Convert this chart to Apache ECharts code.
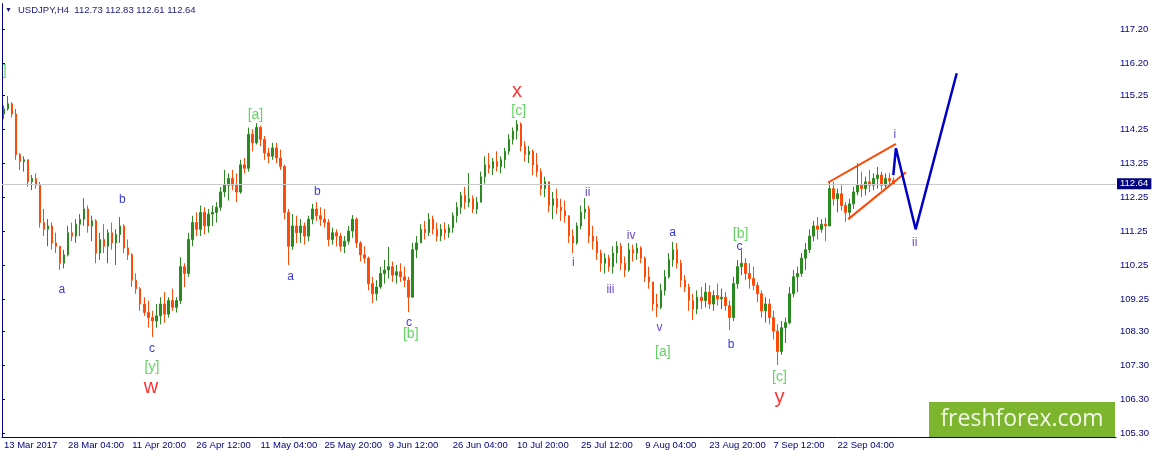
<!DOCTYPE html>
<html><head><meta charset="utf-8">
<script src="https://cdn.jsdelivr.net/npm/echarts@6/dist/echarts.min.js"></script>
<style>html,body{margin:0;padding:0;background:#fff}#c{width:1155px;height:458px}</style>
</head><body><div id="c"></div>
<script>
// ---- data (each candle = 4 consecutive H4 bars) ----
const symbolName = 'USDJPY,H4';
const barsPerCandle = 4;
const xTickLabels = ['13 Mar 2017','28 Mar 04:00','11 Apr 20:00','26 Apr 12:00','11 May 04:00','25 May 20:00','9 Jun 12:00','26 Jun 04:00','10 Jul 20:00','25 Jul 12:00','9 Aug 04:00','23 Aug 20:00','7 Sep 12:00','22 Sep 04:00'];
const yTickLabels = ['105.30','106.30','107.30','108.30','109.25','110.25','111.25','112.25','113.25','114.25','115.25','116.20','117.20'];
const firstOpen = 114.70;
const closes = [
114.85,115.00,114.70,113.50,113.30,113.35,112.70,112.80,112.60,111.50,
111.30,111.40,110.90,110.80,110.30,110.55,111.20,111.10,111.45,111.60,
111.90,111.40,111.55,110.60,111.00,110.80,111.20,110.90,111.15,111.40,
110.75,110.55,109.80,109.55,109.10,108.85,108.70,108.60,108.75,109.10,
108.80,109.20,109.00,109.20,110.20,110.00,111.00,111.50,111.30,111.80,
111.40,111.75,111.80,111.95,112.40,112.60,112.80,112.60,112.40,113.20,
113.10,114.10,113.85,114.30,113.95,113.55,113.45,113.70,113.40,113.15,
111.80,110.80,111.40,111.20,111.40,111.10,111.60,111.90,111.70,111.60,
111.50,111.00,111.20,111.10,110.80,110.95,111.25,111.60,110.90,110.55,
110.45,109.70,109.40,109.60,110.00,110.10,110.20,109.95,110.05,109.90,
109.80,109.30,110.70,110.90,111.30,111.20,111.60,111.30,111.10,111.30,
111.20,111.35,111.70,111.95,112.30,112.10,112.20,111.90,112.10,112.85,
113.20,113.10,113.30,113.15,113.35,113.60,113.95,114.20,114.40,113.75,
113.50,113.60,113.20,113.00,112.50,112.70,112.00,112.20,111.95,111.85,
111.70,111.10,110.90,111.40,111.80,111.90,111.10,110.95,110.60,110.30,
110.45,110.20,110.60,110.80,110.30,110.10,110.70,110.60,110.75,110.45,
109.90,109.75,109.10,109.00,109.50,109.90,110.40,110.70,110.30,109.80,
109.60,109.20,108.95,109.30,109.20,109.45,109.10,109.35,109.25,109.30,
109.05,108.70,109.70,110.20,110.30,110.00,109.85,109.65,109.40,108.90,
109.10,108.70,108.30,107.70,108.40,108.55,109.40,109.90,110.00,110.45,
110.70,111.10,111.40,111.30,111.45,111.40,112.50,112.20,112.35,112.00,
111.80,112.05,112.40,112.60,112.50,112.70,112.60,112.80,112.90,112.60,
112.80,112.73,112.64];
const highs = [
114.95,115.23,115.05,114.85,113.55,113.45,113.10,112.90,112.95,112.70,
111.90,111.60,111.50,111.20,110.80,110.70,111.40,111.50,111.60,111.75,
112.22,112.00,111.70,111.60,111.20,111.45,111.30,111.50,111.30,111.66,
111.45,111.00,110.60,110.00,109.60,109.30,109.20,108.90,109.10,109.30,
109.45,109.30,109.55,109.30,110.48,110.30,111.20,111.70,111.80,112.00,
111.95,111.90,112.00,112.10,112.55,113.05,112.95,113.05,112.95,113.35,
113.40,114.30,114.25,114.43,114.35,114.05,113.70,113.85,113.85,113.65,
113.20,111.90,111.75,111.70,111.60,111.50,111.70,112.05,112.10,111.95,
111.90,111.60,111.35,111.30,111.20,111.10,111.40,111.72,111.65,110.95,
110.80,110.50,109.90,109.80,110.20,110.40,110.78,110.35,110.25,110.30,
110.20,109.90,110.90,111.10,111.45,111.55,111.78,111.70,111.50,111.45,
111.50,111.45,111.80,112.10,112.40,112.55,112.96,112.30,112.25,113.00,
113.45,113.55,113.40,113.60,113.45,113.70,114.10,114.30,114.52,114.45,
113.90,113.75,113.65,113.55,113.10,112.85,112.60,112.40,112.50,112.20,
112.15,111.60,111.30,111.50,112.00,112.22,112.00,111.40,111.10,110.70,
110.60,110.55,110.80,110.95,110.90,110.50,110.90,110.85,110.90,110.80,
110.50,110.20,109.70,109.40,109.70,110.10,110.60,110.93,110.90,110.40,
109.95,109.70,109.40,109.50,109.60,109.72,109.65,109.50,109.70,109.55,
109.45,109.20,109.90,110.40,110.69,110.45,110.30,110.20,109.75,109.50,
109.30,109.25,108.90,108.50,108.60,108.70,109.60,110.10,110.20,110.60,
110.90,111.30,111.55,111.66,111.60,111.65,112.69,112.70,112.50,112.60,
112.10,112.20,112.55,113.25,113.00,112.85,113.05,112.95,113.14,113.00,
112.95,112.96,112.83];
const lows = [
114.55,114.80,114.60,113.35,113.05,113.00,112.55,112.45,112.50,111.35,
111.10,110.80,110.70,110.60,110.10,110.15,110.50,110.95,110.90,111.10,
111.40,111.20,110.95,110.30,110.40,110.60,110.30,110.70,110.25,110.90,
110.60,110.40,109.60,109.40,108.90,108.75,108.40,108.13,108.40,108.50,
108.55,108.70,108.90,108.85,109.10,109.60,109.90,110.80,111.10,111.10,
111.15,111.20,111.40,111.50,111.85,112.25,112.15,112.45,112.10,112.35,
112.95,113.00,113.60,113.80,113.75,113.35,113.25,113.35,113.25,113.05,
111.60,110.25,110.70,110.90,110.90,110.85,110.95,111.45,111.55,111.40,
111.35,110.80,110.85,110.80,110.65,110.60,110.85,111.05,110.75,110.35,
110.30,109.50,109.13,109.20,109.55,109.70,109.85,109.75,109.70,109.75,
109.60,108.86,109.30,110.45,110.90,111.00,111.10,111.15,110.95,110.95,
111.00,111.05,111.20,111.50,111.75,111.90,111.95,111.78,111.75,112.10,
112.65,112.95,112.90,113.00,112.95,113.10,113.50,113.80,113.95,113.60,
113.30,113.25,112.90,112.85,112.30,112.25,111.80,111.60,111.75,111.55,
111.50,110.90,110.60,110.85,111.30,111.60,110.90,110.70,110.40,110.05,
110.00,110.05,110.00,110.30,110.10,109.90,110.05,110.35,110.40,110.30,
109.75,109.55,108.90,108.72,108.95,109.35,109.85,110.20,110.15,109.60,
109.45,108.90,108.63,108.80,108.95,109.00,108.95,108.90,109.05,108.95,
108.90,108.33,108.60,109.55,109.95,109.80,109.55,109.50,109.15,108.70,
108.55,108.50,108.05,107.30,107.60,107.95,108.50,109.30,109.45,109.90,
110.10,110.60,110.95,111.00,111.20,110.95,111.40,112.00,111.80,111.85,
111.52,111.60,111.90,112.30,112.25,112.30,112.40,112.45,112.50,112.45,
112.50,112.55,112.61];
const lastPrice = 112.64;
// drawn lines, in [H4 bar index, price]
const channelUpper = [[824.7,112.68],[892.3,113.82]];
const channelLower = [[844.7,111.60],[902.3,112.98]];
const projection = [[889.7,112.90],[892.3,113.69],[912,111.30],[953,115.90]];
// wave labels: [H4 bar index, price, text, kind]
const waveLabels = [
[2.7,115.97,']','bracket'],
[59.7,109.51,'a','minor'],
[120,112.16,'b','minor'],
[149.7,107.77,'c','minor'],
[149.7,107.25,'[y]','bracket'],
[148.7,106.63,'w','major'],
[253,114.67,'[a]','bracket'],
[288,109.90,'a','minor'],
[314.7,112.41,'b','minor'],
[406.3,108.55,'c','minor'],
[408,108.22,'[b]','bracket'],
[514,115.36,'x','major'],
[515.7,114.79,'[c]','bracket'],
[570.3,110.32,'i','roman'],
[584.7,112.39,'ii','roman'],
[607.3,109.51,'iii','roman'],
[628,111.11,'iv','roman'],
[669.3,111.21,'a','minor'],
[656.3,108.41,'v','roman'],
[659.7,107.69,'[a]','bracket'],
[737.3,111.15,'[b]','bracket'],
[736.3,110.79,'c','minor'],
[727.7,107.91,'b','minor'],
[776,106.95,'[c]','bracket'],
[776,106.33,'y','major'],
[891.3,114.08,'i','roman'],
[911,110.90,'ii','roman']
];

// ---- build ----
const N = 278; // candle slots across the window
const FONT = 'Liberation Sans';
const NAVY = '#000080';
const cats = Array.from({length: N}, (_, i) =>
  (i % 16 === 0 && i / 16 < xTickLabels.length) ? xTickLabels[i / 16] : '');
const candles = closes.map((c, i) => [i ? closes[i - 1] : firstOpen, c, lows[i], highs[i]]);
const yTickValues = yTickLabels.map(Number);
const showTick = (idx) => cats[idx] !== '';
const kindStyle = {
  minor:   {color: '#0000CD', fontSize: 12},
  roman:   {color: '#3A10C8', fontSize: 12},
  bracket: {color: '#3CC83C', fontSize: 14},
  major:   {color: '#FF0000', fontSize: 20}
};
const last = candles[candles.length - 1];
const header = symbolName + '  ' + [last[0], last[3], last[2], last[1]].map(v => v.toFixed(2)).join(' ');

const chart = echarts.init(document.getElementById('c'), null, {renderer: 'canvas'});
chart.setOption({
  animation: false,
  backgroundColor: '#fff',
  title: {text: header, left: 18, top: 5, padding: 0, textStyle: {fontSize: 9.5, fontWeight: 'normal', color: '#1A1A80', fontFamily: FONT}},
  grid: {left: 2, right: 39, top: 4, bottom: 21},
  xAxis: [{
    type: 'category', data: cats, boundaryGap: true,
    axisLine: {lineStyle: {color: NAVY, width: 1}},
    axisTick: {interval: showTick, length: 4, lineStyle: {color: NAVY}},
    axisLabel: {interval: showTick, align: 'left', color: NAVY, fontSize: 9.5, fontFamily: FONT, margin: 3},
    splitLine: {show: false}
  }, {
    type: 'value', min: 0, max: N * barsPerCandle, show: false
  }],
  yAxis: [{
    type: 'value', position: 'right', min: 105.18, max: 117.94,
    splitLine: {show: false},
    axisLine: {show: true, lineStyle: {color: NAVY}},
    axisTick: {show: true, length: 3, customValues: yTickValues, lineStyle: {color: NAVY}},
    axisLabel: {customValues: yTickValues, formatter: v => v.toFixed(2), color: NAVY, fontSize: 9.5, fontFamily: FONT, margin: 4}
  }, {
    type: 'value', position: 'left', min: 105.18, max: 117.94,
    splitLine: {show: false}, axisTick: {show: false}, axisLabel: {show: false},
    axisLine: {show: true, lineStyle: {color: NAVY}}
  }],
  series: [{
    type: 'candlestick', data: candles, barWidth: 2,
    itemStyle: {color: '#2B8A1F', color0: '#FF4A0A', borderColor: '#2B8A1F', borderColor0: '#FF4A0A', borderWidth: 1},
    markLine: {
      symbol: 'none', silent: true, animation: false,
      data: [{yAxis: lastPrice}],
      lineStyle: {color: '#C8C8C8', width: 1, type: 'solid'},
      label: {show: true, position: 'end', formatter: lastPrice.toFixed(2), backgroundColor: NAVY, color: '#fff',
              fontSize: 9.5, fontFamily: FONT, padding: [1, 3, 0, 3], distance: 1}
    },
    z: 2
  }, {
    type: 'line', xAxisIndex: 1, data: channelUpper, symbol: 'none',
    lineStyle: {color: '#FF4500', width: 2}, z: 5
  }, {
    type: 'line', xAxisIndex: 1, data: channelLower, symbol: 'none',
    lineStyle: {color: '#FF4500', width: 2}, z: 5
  }, {
    type: 'line', xAxisIndex: 1, data: projection, symbol: 'none',
    lineStyle: {color: '#0000C8', width: 2.5}, z: 6
  }, {
    type: 'scatter', xAxisIndex: 1, symbolSize: 1, z: 7,
    itemStyle: {color: 'rgba(0,0,0,0)'},
    data: waveLabels.map(w => ({
      value: [w[0], w[1]], name: w[2],
      label: Object.assign({show: true, position: 'inside', formatter: w[2], fontFamily: FONT}, kindStyle[w[3]])
    }))
  }],
  graphic: [
    {type: 'text', left: 5, top: 7, style: {text: '▼', fontSize: 7, fill: '#1A1A80'}},
    {type: 'rect', shape: {x: 929, y: 402, width: 186, height: 35}, style: {fill: '#7DB52F'}, z: 10},
    {type: 'text', x: 1022, y: 419.5, style: {text: 'freshforex.com', fill: '#F2F8E6', font: '23px "Open Sans"', align: 'center', verticalAlign: 'middle'}, z: 11}
  ]
});
</script>
</body></html>
